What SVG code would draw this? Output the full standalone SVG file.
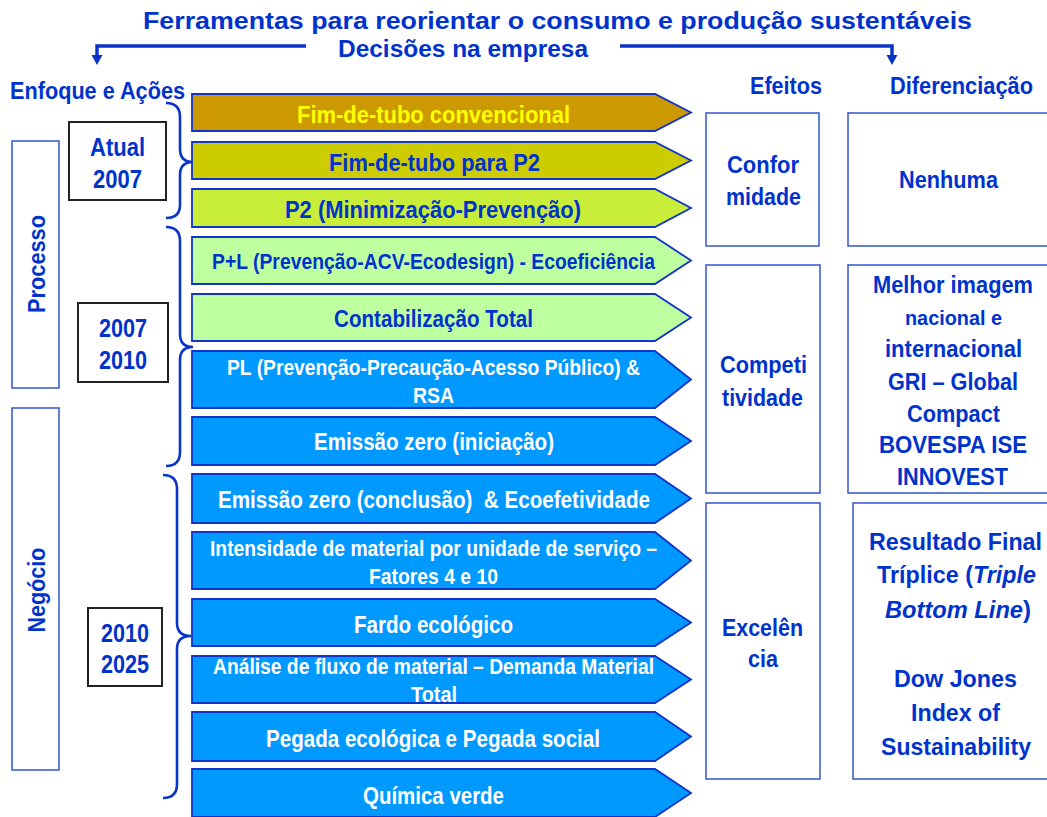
<svg xmlns="http://www.w3.org/2000/svg" width="1047" height="817" viewBox="0 0 1047 817">
<defs>
<style>
text{font-family:"Liberation Sans",Arial,sans-serif;font-weight:bold;fill:#0033CC;text-anchor:middle}
.t25{font-size:25px}
.t24{font-size:24px}
.t23{font-size:23px}
.t22{font-size:22px}
.w{fill:#FFFFFF}
.y{fill:#FFFF00}
.arr{stroke:#1034C8;stroke-width:1.8}
.box{fill:#FFFFFF;stroke:#3355CC;stroke-width:1.5}
.ybox{fill:#FFFFFF;stroke:#222222;stroke-width:2}
.brace{fill:none;stroke:#0A33C8;stroke-width:2.6}
.conn{fill:none;stroke:#0A33C8;stroke-width:3.5}
</style>
<marker id="head" markerUnits="userSpaceOnUse" markerWidth="12" markerHeight="12" refX="0" refY="5.5" orient="auto">
<path d="M0,0 L10,5.5 L0,11 Z" fill="#0A33C8"/>
</marker>
</defs>
<rect width="1047" height="817" fill="#FFFFFF"/>

<g id="title">
<text class="t24" x="557.5" y="29" textLength="829" lengthAdjust="spacingAndGlyphs">Ferramentas para reorientar o consumo e produção sustentáveis</text>
<text class="t24" x="463" y="57" textLength="250" lengthAdjust="spacingAndGlyphs">Decisões na empresa</text>
</g>

<g id="headers">
<text class="t23" x="97.5" y="99" textLength="175" lengthAdjust="spacingAndGlyphs">Enfoque e Ações</text>
<text class="t23" x="786" y="94" textLength="72" lengthAdjust="spacingAndGlyphs">Efeitos</text>
<text class="t23" x="961.5" y="94" textLength="143" lengthAdjust="spacingAndGlyphs">Diferenciação</text>
</g>

<g id="connectors">
<path class="conn" d="M306,46 H97 V55" marker-end="url(#head)"/>
<path class="conn" d="M620,46 H892 V55" marker-end="url(#head)"/>
<path class="brace" d="M166,103 Q180,103 180,117 L180,149 Q180,162 193,162 Q180,162 180,175 L180,205 Q180,218 166,218"/>
<path class="brace" d="M166,227 Q180,227 180,241 L180,334 Q180,347 193,347 Q180,347 180,360 L180,452 Q180,466 166,466"/>
<path class="brace" d="M163,475 Q177,475 177,489 L177,623 Q177,636 191,636 Q177,636 177,649 L177,784 Q177,798 163,798"/>
</g>

<g id="processo">
<rect class="box" x="12" y="141" width="47" height="247"/>
<text class="t23" transform="translate(45,264) rotate(-90)" x="0" y="0" textLength="98" lengthAdjust="spacingAndGlyphs">Processo</text>
</g>
<g id="negocio">
<rect class="box" x="12" y="408" width="47" height="362"/>
<text class="t23" transform="translate(45,590) rotate(-90)" x="0" y="0" textLength="85" lengthAdjust="spacingAndGlyphs">Negócio</text>
</g>

<g id="period-atual">
<rect class="ybox" x="69" y="122" width="97" height="78"/>
<text class="t25" x="117.5" y="156" textLength="55" lengthAdjust="spacingAndGlyphs">Atual</text>
<text class="t25" x="117.5" y="188" textLength="49" lengthAdjust="spacingAndGlyphs">2007</text>
</g>
<g id="period-2007-2010">
<rect class="ybox" x="78" y="303" width="90" height="79"/>
<text class="t25" x="123" y="337" textLength="48" lengthAdjust="spacingAndGlyphs">2007</text>
<text class="t25" x="123" y="369" textLength="48" lengthAdjust="spacingAndGlyphs">2010</text>
</g>
<g id="period-2010-2025">
<rect class="ybox" x="88" y="608" width="74" height="78"/>
<text class="t25" x="125" y="642" textLength="48" lengthAdjust="spacingAndGlyphs">2010</text>
<text class="t25" x="125" y="673" textLength="48" lengthAdjust="spacingAndGlyphs">2025</text>
</g>

<g id="a1">
<polygon class="arr" fill="#CC9900" points="192,94 655,94 691,112.5 655,131 192,131"/>
<text class="t23 y" x="433.5" y="123" textLength="273" lengthAdjust="spacingAndGlyphs">Fim-de-tubo convencional</text>
</g>
<g id="a2">
<polygon class="arr" fill="#CCCC00" points="192,142 655,142 691,160.5 655,179 192,179"/>
<text class="t23" x="434.5" y="171" textLength="211" lengthAdjust="spacingAndGlyphs">Fim-de-tubo para P2</text>
</g>
<g id="a3">
<polygon class="arr" fill="#C8EE3A" points="192,189 655,189 691,208 655,227 192,227"/>
<text class="t23" x="433" y="218" textLength="296" lengthAdjust="spacingAndGlyphs">P2 (Minimização-Prevenção)</text>
</g>
<g id="a4">
<polygon class="arr" fill="#BEFFA0" points="192,237 655,237 691,260.5 655,284 192,284"/>
<text class="t22" x="433.5" y="269" textLength="443" lengthAdjust="spacingAndGlyphs">P+L (Prevenção-ACV-Ecodesign) - Ecoeficiência</text>
</g>
<g id="a5">
<polygon class="arr" fill="#BEFFA0" points="192,294 655,294 691,317.5 655,341 192,341"/>
<text class="t23" x="433.5" y="327" textLength="199" lengthAdjust="spacingAndGlyphs">Contabilização Total</text>
</g>
<g id="a6">
<polygon class="arr" fill="#0099FF" points="192,351 655,351 691,379.5 655,408 192,408"/>
<text class="t22 w" x="433.5" y="375" textLength="413" lengthAdjust="spacingAndGlyphs">PL (Prevenção-Precaução-Acesso Público) &amp;</text>
<text class="t22 w" x="433.5" y="402.5" textLength="41" lengthAdjust="spacingAndGlyphs">RSA</text>
</g>
<g id="a7">
<polygon class="arr" fill="#0099FF" points="192,417 655,417 691,441 655,465 192,465"/>
<text class="t23 w" x="434" y="450" textLength="240" lengthAdjust="spacingAndGlyphs">Emissão zero (iniciação)</text>
</g>
<g id="a8">
<polygon class="arr" fill="#0099FF" points="192,474 655,474 691,498.5 655,523 192,523"/>
<text class="t23 w" x="434" y="507.5" textLength="432" lengthAdjust="spacingAndGlyphs" xml:space="preserve">Emissão zero (conclusão)  &amp; Ecoefetividade</text>
</g>
<g id="a9">
<polygon class="arr" fill="#0099FF" points="192,532 655,532 691,560.5 655,589 192,589"/>
<text class="t22 w" x="433.5" y="556" textLength="447" lengthAdjust="spacingAndGlyphs">Intensidade de material por unidade de serviço –</text>
<text class="t22 w" x="433.5" y="584" textLength="129" lengthAdjust="spacingAndGlyphs">Fatores 4 e 10</text>
</g>
<g id="a10">
<polygon class="arr" fill="#0099FF" points="192,599 655,599 691,622.5 655,646 192,646"/>
<text class="t23 w" x="433.5" y="633" textLength="159" lengthAdjust="spacingAndGlyphs">Fardo ecológico</text>
</g>
<g id="a11">
<polygon class="arr" fill="#0099FF" points="192,656 655,656 691,679.5 655,703 192,703"/>
<text class="t22 w" x="433.5" y="674" textLength="441" lengthAdjust="spacingAndGlyphs">Análise de fluxo de material – Demanda Material</text>
<text class="t22 w" x="434" y="702" textLength="46" lengthAdjust="spacingAndGlyphs">Total</text>
</g>
<g id="a12">
<polygon class="arr" fill="#0099FF" points="192,712 655,712 691,736.5 655,761 192,761"/>
<text class="t23 w" x="433" y="747" textLength="334" lengthAdjust="spacingAndGlyphs">Pegada ecológica e Pegada social</text>
</g>
<g id="a13">
<polygon class="arr" fill="#0099FF" points="192,769 655,769 691,793 655,817 192,817"/>
<text class="t23 w" x="433.5" y="803.5" textLength="141" lengthAdjust="spacingAndGlyphs">Química verde</text>
</g>

<g id="efeito-conformidade">
<rect class="box" x="706" y="113" width="113" height="133"/>
<text class="t24" x="763" y="173" textLength="72" lengthAdjust="spacingAndGlyphs">Confor</text>
<text class="t24" x="763.5" y="205" textLength="75" lengthAdjust="spacingAndGlyphs">midade</text>
</g>
<g id="efeito-competitividade">
<rect class="box" x="706" y="265" width="114" height="228"/>
<text class="t24" x="763.5" y="373" textLength="87" lengthAdjust="spacingAndGlyphs">Competi</text>
<text class="t24" x="762.5" y="406" textLength="81" lengthAdjust="spacingAndGlyphs">tividade</text>
</g>
<g id="efeito-excelencia">
<rect class="box" x="706" y="503" width="114" height="276"/>
<text class="t24" x="762.5" y="636" textLength="81" lengthAdjust="spacingAndGlyphs">Excelên</text>
<text class="t24" x="763" y="667" textLength="30" lengthAdjust="spacingAndGlyphs">cia</text>
</g>

<g id="dif-nenhuma">
<rect class="box" x="848" y="113" width="205" height="133"/>
<text class="t24" x="948.5" y="188" textLength="99" lengthAdjust="spacingAndGlyphs">Nenhuma</text>
</g>
<g id="dif-imagem">
<rect class="box" x="848" y="265" width="205" height="228"/>
<text class="t24" x="953" y="293" textLength="160" lengthAdjust="spacingAndGlyphs">Melhor imagem</text>
<text x="953.5" y="325" style="font-size:20px" textLength="97" lengthAdjust="spacingAndGlyphs">nacional e</text>
<text class="t24" x="953.5" y="357" textLength="137" lengthAdjust="spacingAndGlyphs">internacional</text>
<text class="t24" x="953" y="390" textLength="130" lengthAdjust="spacingAndGlyphs">GRI – Global</text>
<text class="t24" x="953.5" y="422" textLength="93" lengthAdjust="spacingAndGlyphs">Compact</text>
<text class="t24" x="953" y="453" textLength="148" lengthAdjust="spacingAndGlyphs">BOVESPA ISE</text>
<text class="t24" x="952.5" y="485" textLength="111" lengthAdjust="spacingAndGlyphs">INNOVEST</text>
</g>
<g id="dif-resultado">
<rect class="box" x="853" y="503" width="200" height="276"/>
<text class="t24" x="955.5" y="550" textLength="173" lengthAdjust="spacingAndGlyphs">Resultado Final</text>
<text class="t24" x="956.5" y="583" textLength="159" lengthAdjust="spacingAndGlyphs">Tríplice (<tspan font-style="italic">Triple</tspan></text>
<text class="t24" x="954" y="618" textLength="138" lengthAdjust="spacingAndGlyphs" font-style="italic">Bottom Line</text>
<text class="t24" x="1023" y="618" style="text-anchor:start">)</text>
<text class="t24" x="955.5" y="687" textLength="123" lengthAdjust="spacingAndGlyphs">Dow Jones</text>
<text class="t24" x="955.5" y="721" textLength="89" lengthAdjust="spacingAndGlyphs">Index of</text>
<text class="t24" x="956" y="755" textLength="150" lengthAdjust="spacingAndGlyphs">Sustainability</text>
</g>
</svg>
